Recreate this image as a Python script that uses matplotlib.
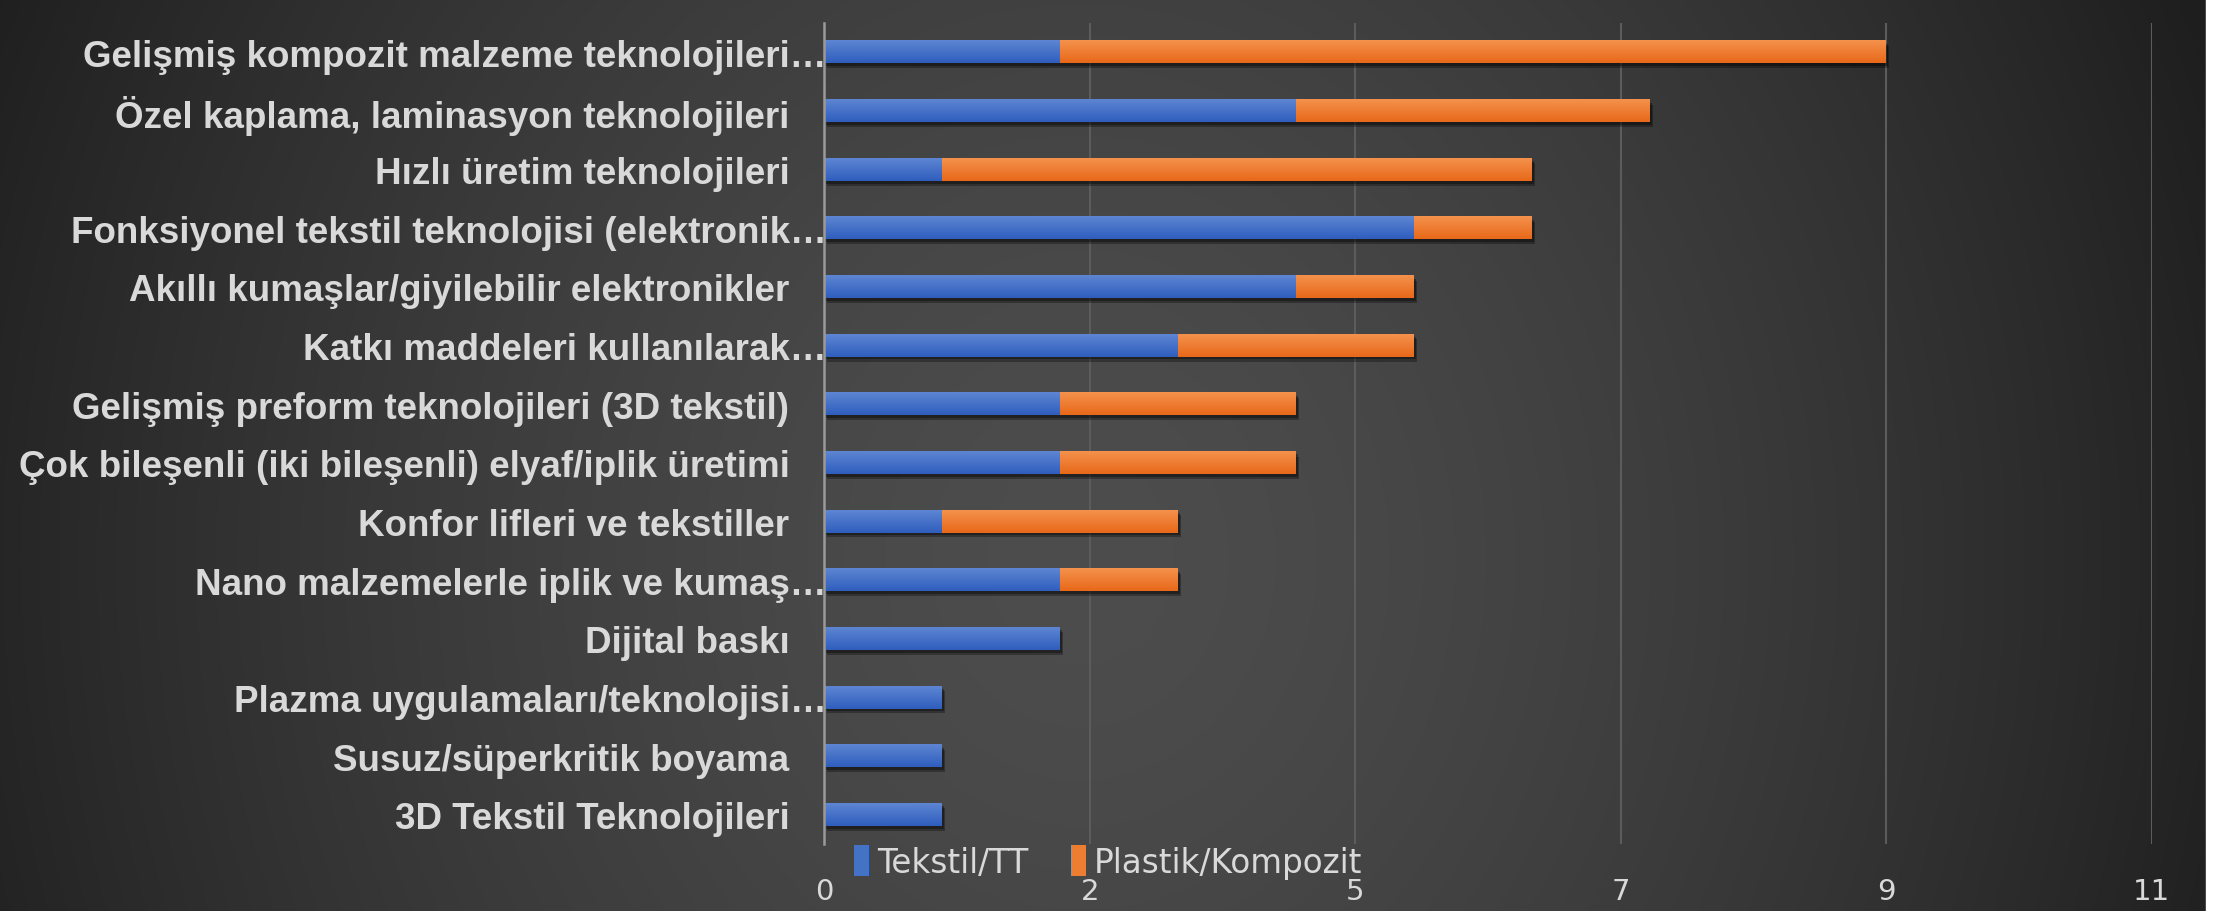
import numpy as np
import matplotlib.pyplot as plt
from matplotlib import patheffects as pe
from matplotlib.patches import Patch, Rectangle

# categories listed top to bottom
categories = [
    "Gelişmiş kompozit malzeme teknolojileri…",
    "Özel kaplama, laminasyon teknolojileri",
    "Hızlı üretim teknolojileri",
    "Fonksiyonel tekstil teknolojisi (elektronik…",
    "Akıllı kumaşlar/giyilebilir elektronikler",
    "Katkı maddeleri kullanılarak…",
    "Gelişmiş preform teknolojileri (3D tekstil)",
    "Çok bileşenli (iki bileşenli) elyaf/iplik üretimi",
    "Konfor lifleri ve tekstiller",
    "Nano malzemelerle iplik ve kumaş…",
    "Dijital baskı",
    "Plazma uygulamaları/teknolojisi…",
    "Susuz/süperkritik boyama",
    "3D Tekstil Teknolojileri",
]
tekstil = [2, 4, 1, 5, 4, 3, 2, 2, 1, 2, 2, 1, 1, 1]
plastik = [7, 3, 5, 1, 1, 2, 2, 2, 2, 1, 0, 0, 0, 0]
series_names = ["Tekstil/TT", "Plastik/Kompozit"]
xticks = [0, 2.25, 4.5, 6.75, 9, 11.25]
xtick_labels = ["0", "2", "5", "7", "9", "11"]

W, H = 2221, 912
fig = plt.figure(figsize=(W / 100, H / 100), dpi=100)

# dark radial background
bg = fig.add_axes([0, 0, 1, 1])
yy, xx = np.mgrid[0:H, 0:W]
d = np.sqrt(((xx - 1080) / 1150.0) ** 2 + ((yy - 560) / 1300.0) ** 2)
shade = np.clip(0x4d - (0x4d - 0x22) * np.clip(d, 0, 1.2) ** 1.5, 0x1e, 0x4d) / 255.0
bg.imshow(np.dstack([shade] * 3), extent=[0, W, H, 0], aspect="auto")
bg.add_patch(Rectangle((2206, 0), 15, H, color="white"))
bg.set_xlim(0, W)
bg.set_ylim(H, 0)
bg.axis("off")

ax = fig.add_axes([824.4 / W, 1 - 845 / H, (2151.7 - 824.4) / W, (845 - 24) / H])
ax.patch.set_alpha(0)

n = len(categories)
ypos = np.arange(n)[::-1]
bar_h = 0.38

def gradient_bar(y, left, width, top_col, bot_col):
    if width <= 0:
        return
    ax.barh(y, width, left=left, height=bar_h, color=bot_col, zorder=3,
            path_effects=[pe.SimplePatchShadow(offset=(2, -3.5), alpha=0.3,
                                                shadow_rgbFace="black"),
                          pe.SimplePatchShadow(offset=(1, -2), alpha=0.35,
                                               shadow_rgbFace="black"),
                          pe.Normal()])
    top = np.array(plt.matplotlib.colors.to_rgb(top_col))
    bot = np.array(plt.matplotlib.colors.to_rgb(bot_col))
    t = np.linspace(0, 1, 32)[:, None]
    grad = (bot + (top - bot) * t)[:, None, :]
    ax.imshow(grad, extent=[left, left + width, y - bar_h / 2, y + bar_h / 2],
              origin="lower", aspect="auto", zorder=4, interpolation="bilinear")

for y, a, b in zip(ypos, tekstil, plastik):
    gradient_bar(y, 0, a, "#5d85d3", "#2f5ebd")
    gradient_bar(y, a, b, "#f4914c", "#e8691a")

ax.set_xlim(0, 11.25)
ax.set_ylim(-0.5, n - 0.5)
ax.set_xticks(xticks)
ax.set_xticklabels(xtick_labels)
ax.set_yticks([])
ax.grid(axis="x", color="#5c5c5c", lw=1.5, zorder=1)
ax.set_axisbelow(True)
for s in ["top", "right", "bottom"]:
    ax.spines[s].set_visible(False)
ax.spines["left"].set_color("#9a9a9a")
ax.spines["left"].set_linewidth(1.8)
ax.spines["left"].set_zorder(5)

ax.tick_params(axis="x", length=0, pad=24, colors="#d9d9d9", labelsize=21)

# category labels, right aligned against the value axis
for y, name in zip(ypos, categories):
    off = 2 if name.endswith("…") else -35
    ax.annotate(name, xy=(0, y), xycoords="data", xytext=(off * 0.72, 0),
                textcoords="offset points", ha="right", va="center_baseline",
                fontsize=26.5, fontweight="bold", color="#d9d9d9",
                family=["Liberation Sans", "DejaVu Sans"], annotation_clip=False)

handles = [Patch(facecolor="#4472c4"), Patch(facecolor="#ed7d31")]
leg = fig.legend(handles, series_names, loc="center", bbox_to_anchor=(0.499, 0.054),
                 ncol=2, frameon=False, handlelength=0.45, handleheight=1.1,
                 handletextpad=0.25, columnspacing=1.3, prop={"size": 23.5})
for t in leg.get_texts():
    t.set_color("#d9d9d9")

fig.savefig("out.png", dpi=100)
